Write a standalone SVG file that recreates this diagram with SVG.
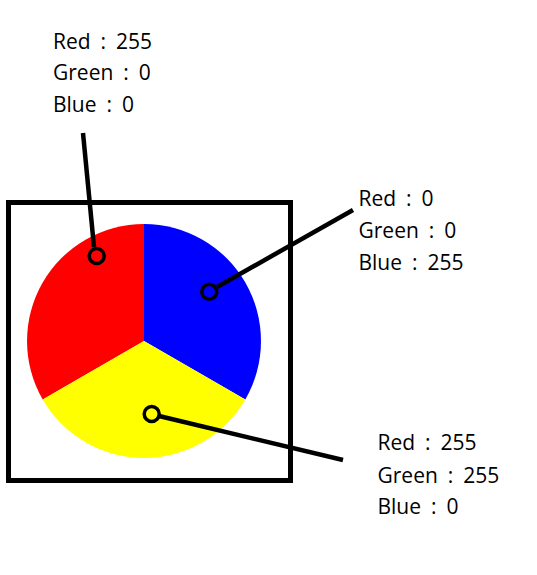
<svg xmlns="http://www.w3.org/2000/svg" width="537" height="575" viewBox="0 0 537 575">
<style>
.lbl{font-family:"Open Sans","Noto Sans",sans-serif;font-size:21px;fill:#000;word-spacing:4.5px}
.ln{stroke:#000;stroke-width:4.5;fill:none;stroke-linecap:butt}
.dot{stroke:#000;stroke-width:3.5;fill:none}
</style>
<rect width="537" height="575" fill="#fff"/>
<g id="frame"><rect x="8.5" y="202.5" width="282" height="278" fill="none" stroke="#000" stroke-width="5"/></g>
<g id="pie">
<path id="red-sector" d="M144,341 L144,224 A117,117 0 0 0 42.7,399.5 Z" fill="#ff0000"/>
<path id="blue-sector" d="M144,341 L144,224 A117,117 0 0 1 245.3,399.5 Z" fill="#0000ff"/>
<path id="yellow-sector" d="M144,341 L245.3,399.5 A117,117 0 0 1 42.7,399.5 Z" fill="#ffff00"/>
</g>
<g id="connectors">
<line class="ln" x1="83" y1="133" x2="94" y2="247"/>
<line class="ln" x1="353" y1="210" x2="217" y2="287"/>
<line class="ln" x1="159" y1="416" x2="343" y2="460"/>
</g>
<g id="dots">
<circle class="dot" cx="96.7" cy="256" r="7.5"/>
<circle class="dot" cx="209.3" cy="291.7" r="7.5"/>
<circle class="dot" cx="151.7" cy="414" r="7.5"/>
</g>
<g id="label-red">
<text class="lbl" x="53" y="48.5">Red : 255</text>
<text class="lbl" x="53" y="80">Green : 0</text>
<text class="lbl" x="53" y="111.7">Blue : 0</text>
</g>
<g id="label-blue">
<text class="lbl" x="358.5" y="206">Red : 0</text>
<text class="lbl" x="358.5" y="238">Green : 0</text>
<text class="lbl" x="358.5" y="270">Blue : 255</text>
</g>
<g id="label-yellow">
<text class="lbl" x="377.5" y="450">Red : 255</text>
<text class="lbl" x="377.5" y="482.5">Green : 255</text>
<text class="lbl" x="377.5" y="514.3">Blue : 0</text>
</g>
</svg>
